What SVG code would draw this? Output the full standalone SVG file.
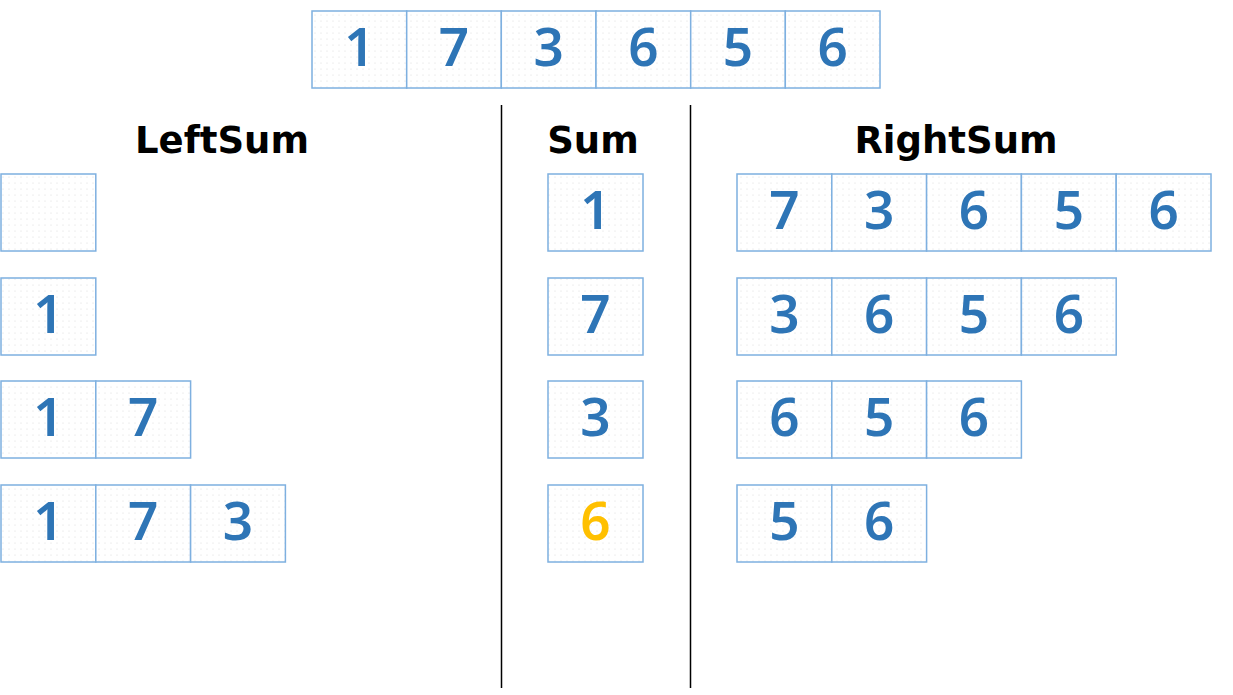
<svg xmlns="http://www.w3.org/2000/svg" width="1233" height="695" viewBox="0 0 1233 695">
<defs>
<pattern id="dots" width="6" height="6" patternUnits="userSpaceOnUse">
<rect width="6" height="6" fill="#ffffff"/>
<circle cx="3" cy="3" r="0.6" fill="#dcdcdc"/>
</pattern>
</defs>
<style>
.c{fill:url(#dots);stroke:#7eb0e0;stroke-width:1.5}
.n{font-family:"Noto Sans","DejaVu Sans",sans-serif;font-weight:600;font-size:53px;fill:#2e75b6;text-anchor:middle}
.y{fill:#ffc000}
.h{font-family:"DejaVu Sans",sans-serif;font-weight:bold;font-size:37px;fill:#000;text-anchor:middle}
.sep{stroke:#000;stroke-width:1.5}
</style>
<rect width="1233" height="695" fill="#fff"/>

<g id="top">
<g id="t0"><rect class="c" x="312" y="11" width="94.7" height="77"/><text class="n" x="359.3" y="66">1</text></g>
<g id="t1"><rect class="c" x="406.7" y="11" width="94.7" height="77"/><text class="n" x="454" y="66">7</text></g>
<g id="t2"><rect class="c" x="501.3" y="11" width="94.7" height="77"/><text class="n" x="548.7" y="66">3</text></g>
<g id="t3"><rect class="c" x="596" y="11" width="94.7" height="77"/><text class="n" x="643.3" y="66">6</text></g>
<g id="t4"><rect class="c" x="690.7" y="11" width="94.7" height="77"/><text class="n" x="738" y="66">5</text></g>
<g id="t5"><rect class="c" x="785.3" y="11" width="94.7" height="77"/><text class="n" x="832.7" y="66">6</text></g>
</g>

<g id="connectors">
<line class="sep" x1="501.5" y1="105" x2="501.5" y2="688"/>
<line class="sep" x1="690.5" y1="105" x2="690.5" y2="688"/>
</g>

<g id="headers">
<text class="h" x="222" y="153">LeftSum</text>
<text class="h" x="593" y="153">Sum</text>
<text class="h" x="956" y="153">RightSum</text>
</g>

<g id="left">
<g id="l0"><rect class="c" x="1" y="174" width="94.8" height="77"/></g>
<g id="l1"><rect class="c" x="1" y="278" width="94.8" height="77"/><text class="n" x="48.4" y="333">1</text></g>
<g id="l2">
<rect class="c" x="1" y="381" width="94.8" height="77"/><text class="n" x="48.4" y="436">1</text>
<rect class="c" x="95.8" y="381" width="94.8" height="77"/><text class="n" x="143.2" y="436">7</text>
</g>
<g id="l3">
<rect class="c" x="1" y="485" width="94.8" height="77"/><text class="n" x="48.4" y="540">1</text>
<rect class="c" x="95.8" y="485" width="94.8" height="77"/><text class="n" x="143.2" y="540">7</text>
<rect class="c" x="190.6" y="485" width="94.8" height="77"/><text class="n" x="238" y="540">3</text>
</g>
</g>

<g id="sum">
<g id="s0"><rect class="c" x="548" y="174" width="95" height="77"/><text class="n" x="595.5" y="229">1</text></g>
<g id="s1"><rect class="c" x="548" y="278" width="95" height="77"/><text class="n" x="595.5" y="333">7</text></g>
<g id="s2"><rect class="c" x="548" y="381" width="95" height="77"/><text class="n" x="595.5" y="436">3</text></g>
<g id="s3"><rect class="c" x="548" y="485" width="95" height="77"/><text class="n y" x="595.5" y="540">6</text></g>
</g>

<g id="right">
<g id="r0">
<rect class="c" x="737" y="174" width="94.8" height="77"/><text class="n" x="784.4" y="229">7</text>
<rect class="c" x="831.8" y="174" width="94.8" height="77"/><text class="n" x="879.2" y="229">3</text>
<rect class="c" x="926.6" y="174" width="94.8" height="77"/><text class="n" x="974" y="229">6</text>
<rect class="c" x="1021.4" y="174" width="94.8" height="77"/><text class="n" x="1068.8" y="229">5</text>
<rect class="c" x="1116.2" y="174" width="94.8" height="77"/><text class="n" x="1163.6" y="229">6</text>
</g>
<g id="r1">
<rect class="c" x="737" y="278" width="94.8" height="77"/><text class="n" x="784.4" y="333">3</text>
<rect class="c" x="831.8" y="278" width="94.8" height="77"/><text class="n" x="879.2" y="333">6</text>
<rect class="c" x="926.6" y="278" width="94.8" height="77"/><text class="n" x="974" y="333">5</text>
<rect class="c" x="1021.4" y="278" width="94.8" height="77"/><text class="n" x="1068.8" y="333">6</text>
</g>
<g id="r2">
<rect class="c" x="737" y="381" width="94.8" height="77"/><text class="n" x="784.4" y="436">6</text>
<rect class="c" x="831.8" y="381" width="94.8" height="77"/><text class="n" x="879.2" y="436">5</text>
<rect class="c" x="926.6" y="381" width="94.8" height="77"/><text class="n" x="974" y="436">6</text>
</g>
<g id="r3">
<rect class="c" x="737" y="485" width="94.8" height="77"/><text class="n" x="784.4" y="540">5</text>
<rect class="c" x="831.8" y="485" width="94.8" height="77"/><text class="n" x="879.2" y="540">6</text>
</g>
</g>
</svg>
